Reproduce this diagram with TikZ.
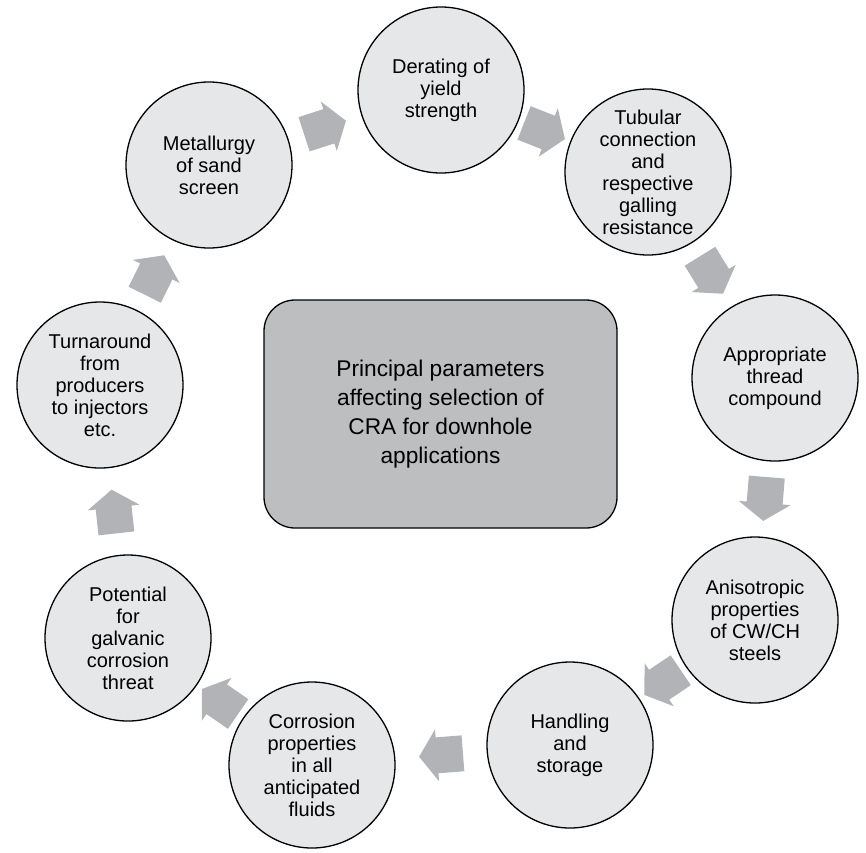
\documentclass[tikz,border=0pt]{standalone}
\usepackage{fontspec}
\setmainfont{Liberation Sans}
\usetikzlibrary{calc}
\definecolor{circfill}{HTML}{E6E7E8}
\definecolor{boxfill}{HTML}{BDBEC0}
\definecolor{arrowfill}{HTML}{B1B3B6}
% block arrow halfway between two ring nodes, pointing from the first to the second
\newcommand\ringarrow[2]{%
  \path let \p1=($(#2)-(#1)$), \n1={atan2(\y1,\x1)} in
    pic[rotate=\n1] at ($(#1)!0.5!(#2)$) {blockarrow};}
\begin{document}
\begin{tikzpicture}[x=1pt,y=1pt,
  param/.style={circle, draw=black, line width=1.3pt, fill=circfill,
    minimum size=166pt, inner sep=0pt, align=center,
    font=\fontsize{20}{22}\selectfont},
  centrebox/.style={rectangle, rounded corners=31pt, draw=black, line width=1.3pt,
    fill=boxfill, minimum width=353pt, minimum height=228pt, align=center,
    font=\fontsize{22.7}{29}\selectfont},
  blockarrow/.pic={\fill[arrowfill] (-22,-18) -- (4,-18) -- (4,-26) -- (22,0)
    -- (4,26) -- (4,18) -- (-22,18) -- cycle;}]
\useasboundingbox (0,0) rectangle (866,-852);

% centre box
\node[centrebox] (main) at (440.5,-414) {Principal parameters\\affecting selection of\\CRA for downhole\\applications};

% ring of parameters
\node[param] (derate)  at (441,-90)  {Derating of\\yield\\strength};
\node[param] (tubular) at (648,-172) {Tubular\\connection\\and\\respective\\galling\\resistance};
\node[param] (thread)  at (775,-378) {Appropriate\\thread\\compound};
\node[param] (aniso)   at (755,-620) {Anisotropic\\properties\\of CW/CH\\steels};
\node[param] (handle)  at (570,-745) {Handling\\and\\storage};
\node[param] (corr)    at (312,-765) {Corrosion\\properties\\in all\\anticipated\\fluids};
\node[param] (galv)    at (128,-638) {Potential\\for\\galvanic\\corrosion\\threat};
\node[param] (turn)    at (100,-385) {Turnaround\\from\\producers\\to injectors\\etc.};
\node[param] (metal)   at (209,-165) {Metallurgy\\of sand\\screen};

% block arrows running clockwise round the ring
\ringarrow{metal}{derate}
\ringarrow{derate}{tubular}
\ringarrow{tubular}{thread}
\ringarrow{thread}{aniso}
\ringarrow{aniso}{handle}
\ringarrow{handle}{corr}
\ringarrow{corr}{galv}
\ringarrow{galv}{turn}
\ringarrow{turn}{metal}
\end{tikzpicture}
\end{document}
